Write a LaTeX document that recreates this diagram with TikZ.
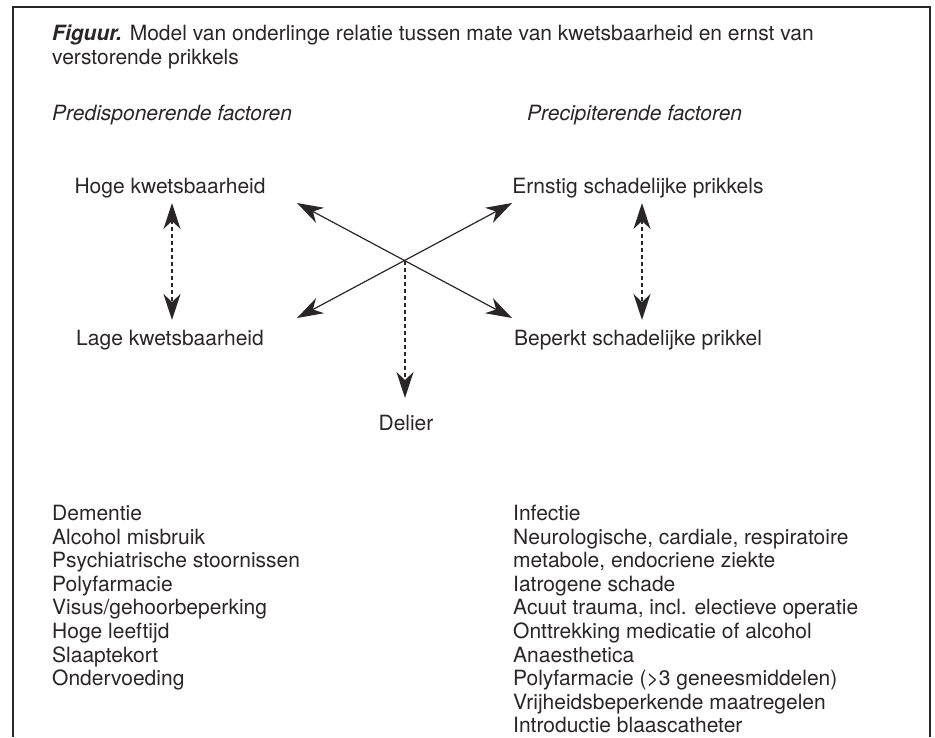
\documentclass[tikz,border=0pt]{standalone}
\usepackage{fontspec}
\setmainfont{TeX Gyre Heros}
\usetikzlibrary{arrows.meta}
\definecolor{ink}{HTML}{2A2627}
\begin{document}
\begin{tikzpicture}[x=1pt,y=-1pt,
  every node/.style={inner sep=0pt, text=ink, font=\fontsize{21}{24}\selectfont},
  lbl/.style={anchor=center},
  listbox/.style={anchor=north west, align=left, font=\fontsize{21}{23.6}\selectfont},
  tip/.style={-{Stealth[length=26pt,width=17pt,inset=8pt]}},
  duotip/.style={{Stealth[length=26pt,width=17pt,inset=8pt]}-{Stealth[length=26pt,width=17pt,inset=8pt]}},
  solidline/.style={draw=ink, line width=1.2pt},
  dashline/.style={draw=ink, line width=1.3pt, dash pattern=on 4pt off 3pt}
]
\useasboundingbox (0,0) rectangle (935,737);
\draw[draw=ink, line width=1.6pt] (13,737) -- (13,7) -- (930,7) -- (930,737);

\node[anchor=north west, align=left] (title) at (52,25)
  {\textbf{\textit{Figuur.}} Model van onderlinge relatie tussen mate van kwetsbaarheid en ernst van\\verstorende prikkels};

\node[anchor=west, font=\fontsize{21}{24}\selectfont\itshape] (pre) at (52,115) {Predisponerende factoren};
\node[anchor=west, font=\fontsize{21}{24}\selectfont\itshape] (prec) at (527,115) {Precipiterende factoren};

\node[lbl] (hoge) at (170,188) {Hoge kwetsbaarheid};
\node[lbl] (lage) at (170,340) {Lage kwetsbaarheid};
\node[lbl] (ernstig) at (638,188) {Ernstig schadelijke prikkels};
\node[lbl] (beperkt) at (638,340) {Beperkt schadelijke prikkel};
\node[lbl] (delier) at (406,423) {Delier};

\coordinate (hl1) at (172,203);
\coordinate (hl2) at (172,320);
\coordinate (er1) at (642,203);
\coordinate (er2) at (642,320);
\coordinate (ul) at (297,203);
\coordinate (ur) at (512,203);
\coordinate (ll) at (297,318);
\coordinate (lr) at (512,318);
\coordinate (cx) at (405,260.5);
\coordinate (dl) at (405,398);

\draw[dashline, duotip] (hl1) -- (hl2);
\draw[dashline, duotip] (er1) -- (er2);
\draw[solidline, duotip] (ul) -- (lr);
\draw[solidline, duotip] (ll) -- (ur);
\draw[dashline, tip] (cx) -- (dl);

\node[listbox] (leftlist) at (52,505) {Dementie\\Alcohol misbruik\\Psychiatrische stoornissen\\Polyfarmacie\\Visus/gehoorbeperking\\Hoge leeftijd\\Slaaptekort\\Ondervoeding};
\node[listbox] (rightlist) at (513,505) {Infectie\\Neurologische, cardiale, respiratoire\\metabole, endocriene ziekte\\Iatrogene schade\\Acuut trauma, incl. electieve operatie\\Onttrekking medicatie of alcohol\\Anaesthetica\\Polyfarmacie (>3 geneesmiddelen)\\Vrijheidsbeperkende maatregelen\\Introductie blaascatheter};
\end{tikzpicture}
\end{document}
